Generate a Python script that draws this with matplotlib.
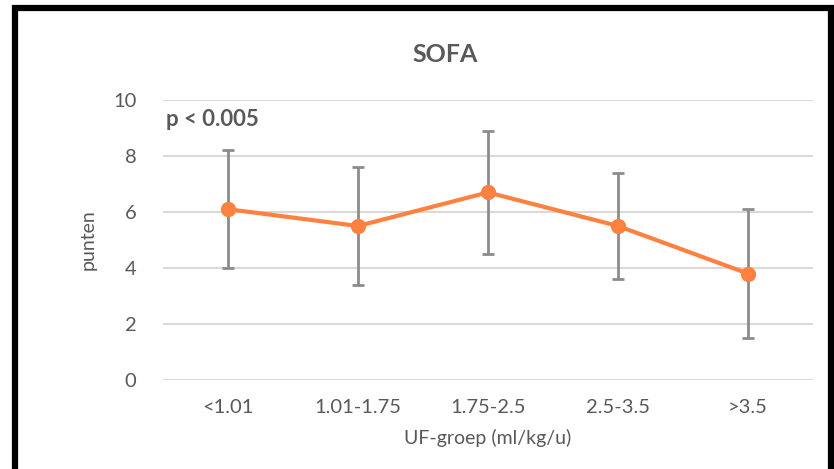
import matplotlib
matplotlib.use("Agg")
import matplotlib.pyplot as plt
from matplotlib.patches import Rectangle

categories = ["<1.01", "1.01-1.75", "1.75-2.5", "2.5-3.5", ">3.5"]
means = [6.1, 5.5, 6.7, 5.5, 3.8]
upper = [8.2, 7.6, 8.9, 7.4, 6.1]
lower = [4.0, 3.4, 4.5, 3.6, 1.5]
yticks = [0, 2, 4, 6, 8, 10]

plt.rcParams['font.family'] = ['Lato', 'DejaVu Sans']
gray = "#595959"

W, H = 834, 469
fig = plt.figure(figsize=(W / 100, H / 100), dpi=100)
ax = fig.add_axes([163 / W, 1 - 380 / H, 650 / W, 280 / H])

x = list(range(len(categories)))
yerr = [[m - l for m, l in zip(means, lower)], [u - m for m, u in zip(means, upper)]]
ax.errorbar(x, means, yerr=yerr, fmt='none', ecolor="#8C8C8C", elinewidth=2,
            capsize=4, capthick=2, zorder=2)
ax.plot(x, means, color="#FF8140", lw=3, marker='o', ms=10, zorder=3)

ax.set_xlim(-0.5, len(categories) - 0.5)
ax.set_ylim(0, 10)
ax.set_yticks(yticks)
ax.set_xticks(x)
ax.set_xticklabels(categories)
ax.grid(axis='y', color="#D9D9D9", lw=1.5)
ax.set_axisbelow(True)
for s in ax.spines.values():
    s.set_visible(False)
ax.tick_params(length=0, colors=gray, labelsize=14.5)
ax.tick_params(axis='y', pad=19)
ax.tick_params(axis='x', pad=14)
ax.set_xlabel("UF-groep (ml/kg/u)", color=gray, fontsize=14, labelpad=9)
ax.set_ylabel("punten", color=gray, fontsize=14, labelpad=12)

fig.text(445 / W, 1 - 55 / H, "SOFA", ha='center', va='center', fontsize=18,
         fontweight='bold', color=gray)
ax.text(0.004, 0.93, "p < 0.005", transform=ax.transAxes, ha='left', va='center',
        fontsize=16, fontweight='bold', color=gray)

fig.add_artist(Rectangle((14.5 / W, -0.1), (831 - 14.5) / W, 1.1 - 8.5 / H,
                         transform=fig.transFigure, fill=False, edgecolor='black',
                         lw=4.5, clip_on=False))

fig.savefig("out.png", dpi=100)
